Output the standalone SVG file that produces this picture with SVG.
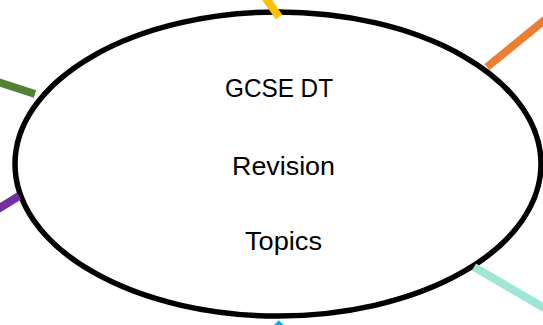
<svg xmlns="http://www.w3.org/2000/svg" width="543" height="325" viewBox="0 0 543 325">
<style>
.spoke{stroke-width:8;stroke-linecap:butt;fill:none}
.lbl{font-family:"Liberation Sans",Arial,sans-serif;font-size:26px;fill:#000;text-anchor:middle}
</style>
<rect width="543" height="325" fill="#fff"/>
<g id="center">
<ellipse cx="278" cy="164" rx="263" ry="152" fill="#fff" stroke="#000" stroke-width="5.5"/>
<text class="lbl" x="279" y="97" textLength="108" lengthAdjust="spacingAndGlyphs">GCSE DT</text>
<text class="lbl" x="283.5" y="175" textLength="103" lengthAdjust="spacingAndGlyphs">Revision</text>
<text class="lbl" x="283.5" y="250" textLength="77" lengthAdjust="spacingAndGlyphs">Topics</text>
</g>
<g id="connectors">
<line class="spoke" x1="265" y1="-3" x2="279" y2="17" stroke="#FFC000"/>
<line class="spoke" x1="487" y1="67" x2="546" y2="19" stroke="#ED7D31"/>
<line class="spoke" x1="-2" y1="82" x2="35" y2="94" stroke="#548235"/>
<line class="spoke" x1="-2" y1="209" x2="19" y2="196" stroke="#7030A0"/>
<line class="spoke" x1="474" y1="267" x2="546" y2="309" stroke="#A0E6D8"/>
<line class="spoke" x1="276" y1="323" x2="300" y2="347" stroke="#00B0F0"/>
</g>
</svg>
